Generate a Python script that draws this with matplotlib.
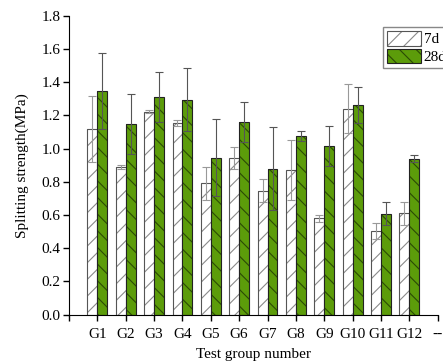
import matplotlib
matplotlib.use('Agg')
import matplotlib.pyplot as plt
import matplotlib.transforms as mtransforms
from matplotlib.patches import Patch
import numpy as np

plt.rcParams['font.family'] = ['Liberation Serif', 'DejaVu Serif']
plt.rcParams['hatch.linewidth'] = 0.8

# data
groups = ['G1', 'G2', 'G3', 'G4', 'G5', 'G6', 'G7', 'G8', 'G9', 'G10', 'G11', 'G12']
s7 = [1.117, 0.89, 1.223, 1.153, 0.79, 0.942, 0.747, 0.870, 0.581, 1.241, 0.504, 0.611]
e7 = [0.20, 0.01, 0.01, 0.02, 0.10, 0.065, 0.07, 0.18, 0.02, 0.15, 0.05, 0.07]
s28 = [1.348, 1.147, 1.311, 1.295, 0.946, 1.159, 0.878, 1.078, 1.016, 1.263, 0.608, 0.940]
e28 = [0.23, 0.18, 0.15, 0.19, 0.23, 0.12, 0.25, 0.03, 0.12, 0.11, 0.07, 0.02]

green = '#5c9c0a'
w = 0.35
x = np.arange(1, len(groups) + 1)

fig = plt.figure(figsize=(4.43, 3.63), dpi=100)
ax = fig.add_axes([69 / 443, 48.3 / 363, 369 / 443, 299 / 363])

# hatch layers then outlines
ax.bar(x - w / 2, s7, w, color='white', edgecolor='#8a8a8a', hatch='//', linewidth=0)
ax.bar(x - w / 2, s7, w, fill=False, edgecolor='#555555', linewidth=0.8)
ax.bar(x + w / 2, s28, w, color=green, edgecolor='#2a4a05', hatch='\\\\', linewidth=0)
ax.bar(x + w / 2, s28, w, fill=False, edgecolor='#222222', linewidth=0.8)

ax.errorbar(x - w / 2, s7, yerr=e7, fmt='none', ecolor='#999999', elinewidth=0.8, capsize=3, capthick=0.8)
ax.errorbar(x + w / 2, s28, yerr=e28, fmt='none', ecolor='#555555', elinewidth=0.8, capsize=3, capthick=0.8)

ax.set_xlim(0, 13.01)
ax.set_ylim(0, 1.8)
ax.set_xticks(list(range(0, 14)))
ax.set_xticklabels([''] + groups + ['--'])
ax.set_yticks(np.arange(0, 1.81, 0.2))
ax.set_yticklabels(['%.1f' % v for v in np.arange(0, 1.81, 0.2)])
ax.tick_params(direction='out', length=4, width=1, labelsize=11)
ax.tick_params(axis='x', pad=5.5)
ax.tick_params(axis='y', pad=2)
ax.spines['top'].set_visible(False)
ax.spines['right'].set_visible(False)

# last label sits a little left so it shows at the edge
last = ax.get_xticklabels()[-1]
last.set_ha('left')
last.set_transform(last.get_transform() + mtransforms.ScaledTranslation(-5 / 100, 0, fig.dpi_scale_trans))

ax.set_xlabel('Test group number', fontsize=11, labelpad=5)
ax.set_ylabel('Splitting strength(MPa)', fontsize=11, labelpad=9)

h7 = (Patch(facecolor='white', edgecolor='#8a8a8a', hatch='//', linewidth=0),
      Patch(fill=False, edgecolor='#555555', linewidth=0.8))
h28 = (Patch(facecolor=green, edgecolor='#2a4a05', hatch='\\\\', linewidth=0),
       Patch(fill=False, edgecolor='#222222', linewidth=0.8))
ax.legend([h7, h28], ['7d', '28d'], loc='upper left', bbox_to_anchor=(0.852, 0.962),
          fontsize=11, handlelength=2.2, handleheight=1.1, handletextpad=0.2,
          labelspacing=0.15, borderpad=0.25, borderaxespad=0, fancybox=False,
          edgecolor='#888888', framealpha=1)

fig.savefig('out.png', dpi=100)
